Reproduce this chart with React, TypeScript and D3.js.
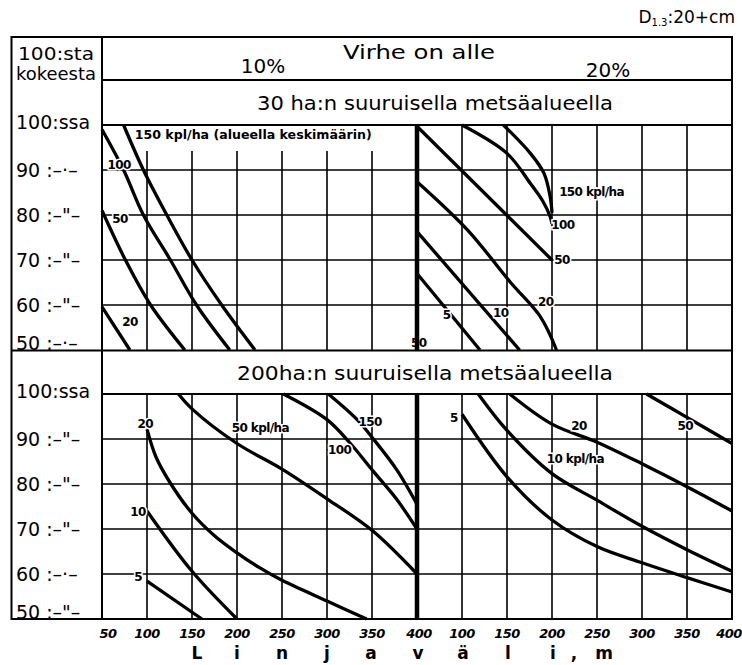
import React from "react";
import * as d3 from "d3";

const W = 742;
const H = 665;

type Pt = [number, number];
type Curve = { n: string; pts: Pt[] };
type Lab = { t: string; x: number; y: number };

// x: linjaväli (m), y: number of samples out of 100 where error stays below limit
const distances = [50, 100, 150, 200, 250, 300, 350, 400];
const percents = [50, 60, 70, 80, 90, 100];
const topYLabels = ["50 :–·–", "60 :–\"–", "70 :–\"–", "80 :–\"–", "90 :–·–", "100:ssa"];
const bottomYLabels = ["50 :–\"–", "60 :–·–", "70 :–\"–", "80 :–\"–", "90 :–\"–", "100:ssa"];

// 30 ha, error < 10 %
const ha30err10: Curve[] = [
  { n: "20", pts: [[50, 59.6], [81, 50]] },
  { n: "50", pts: [[50, 81], [76, 70], [104, 60], [142, 50]] },
  { n: "100", pts: [[50, 99], [74, 90], [96, 80], [126, 70], [155, 60], [192, 50]] },
  { n: "150", pts: [[74, 100], [96, 90], [122, 80], [150, 70], [183, 60], [220, 50]] },
];
const ha30err10Labels: Lab[] = [
  { t: "100", x: 69, y: 91.1 },
  { t: "50", x: 70, y: 79.1 },
  { t: "20", x: 81, y: 56.2 },
];
const ha30err10Main: Lab = { t: "150 kpl/ha (alueella keskimäärin)", x: 218, y: 97.8 };

// 30 ha, error < 20 %
const ha30err20: Curve[] = [
  { n: "5", pts: [[50, 67], [120, 50]] },
  { n: "10", pts: [[50, 76.3], [164, 50]] },
  { n: "20", pts: [[50, 87.4], [106, 76.7], [154, 65], [187, 57.4], [205, 50]] },
  { n: "50", pts: [[51, 99.5], [200, 70]] },
  { n: "100", pts: [[100, 100], [150, 93.7], [176, 87], [190, 83], [198, 79.6], [200, 78]] },
  { n: "150", pts: [[146, 100], [176, 93.7], [191, 89.3], [198, 84], [200, 80.5]] },
];
const ha30err20Labels: Lab[] = [
  { t: "150 kpl/ha", x: 244, y: 85.1 },
  { t: "100", x: 212, y: 77.8 },
  { t: "50", x: 211, y: 70 },
  { t: "20", x: 193, y: 60.7 },
  { t: "10", x: 143, y: 58.2 },
  { t: "5", x: 83, y: 57.8 },
  { t: "50", x: 52, y: 51.6 },
];

// 200 ha, error < 10 %
const ha200err10: Curve[] = [
  { n: "5", pts: [[100, 58.4], [161, 50]] },
  { n: "10", pts: [[100, 74], [150, 60.6], [200, 50]] },
  { n: "20", pts: [[100, 92.2], [110, 86], [125, 80.5], [150, 73.5], [175, 68.5], [200, 64.7], [225, 61.4], [250, 58.6], [300, 54], [344, 50]] },
  { n: "50", pts: [[135, 100], [150, 96.7], [200, 89], [250, 83.3], [300, 76.7], [350, 69.7], [400, 60]] },
  { n: "100", pts: [[251.5, 100], [300, 94.3], [326, 89], [351.5, 82.8], [377, 76.7], [400, 70]] },
  { n: "150", pts: [[301.5, 100], [333, 94.4], [351.5, 90], [377, 83.3], [400, 75.5]] },
];
const ha200err10Labels: Lab[] = [
  { t: "20", x: 98, y: 93.4 },
  { t: "10", x: 90, y: 73.7 },
  { t: "5", x: 90, y: 59.3 },
  { t: "50 kpl/ha", x: 226, y: 92.5 },
  { t: "100", x: 314, y: 87.5 },
  { t: "150", x: 348, y: 93.7 },
];

// 200 ha, error < 20 %
const ha200err20: Curve[] = [
  { n: "5", pts: [[100, 95.5], [150, 81.6], [200, 72], [250, 66.1], [300, 62.5], [350, 59.2], [400, 56]] },
  { n: "10", pts: [[118, 100], [150, 91.9], [200, 82.3], [250, 76.4], [300, 70.6], [350, 65.4], [400, 60.6]] },
  { n: "20", pts: [[153, 100], [200, 93.3], [250, 89.3], [300, 84.5], [350, 79.4], [400, 74]] },
  { n: "50", pts: [[305, 100], [350, 94.8], [400, 89]] },
];
const ha200err20Labels: Lab[] = [
  { t: "5", x: 91, y: 94.7 },
  { t: "20", x: 230, y: 92.9 },
  { t: "10 kpl/ha", x: 226, y: 85.6 },
  { t: "50", x: 348, y: 92.9 },
];

const leftTickLabels = ["50", "100", "150", "200", "250", "300", "350", "400"];
const rightTickLabels = ["100", "150", "200", "250", "300", "350", "400"];
const axisLetters = ["L", "i", "n", "j", "a", "v", "ä", "l", "i", ",", "m"];
const axisLetterX = [197, 237, 282, 327, 371, 418, 463, 508, 553, 574, 604];

// layout
const FL = 11.5, FR = 732, FT = 37, FB = 619;
const COL = 102;
const MID = 417;
const TOP_Y0 = 125, TOP_Y1 = 350;
const BOT_Y0 = 394, BOT_Y1 = 619;
const HEAD = "'DejaVu Sans', 'Open Sans', sans-serif";

function Panel({ x0, y0, y1, curves, labels, skipTop }: { x0: number; y0: number; y1: number; curves: Curve[]; labels: Lab[]; skipTop?: number }) {
  const xs = d3.scaleLinear().domain([50, 400]).range([x0, x0 + 315]);
  const ys = d3.scaleLinear().domain([50, 100]).range([y1, y0]);
  const line = d3
    .line<Pt>()
    .x((d) => xs(d[0]))
    .y((d) => ys(d[1]))
    .curve(d3.curveCatmullRom.alpha(0.5));
  return (
    <g>
      {distances.slice(1, -1).map((d) => (
        <line key={"v" + d} x1={xs(d)} x2={xs(d)} y1={y0 + (skipTop || 0)} y2={y1} stroke="#000" strokeWidth={1.6} />
      ))}
      {percents.slice(1, -1).map((p) => (
        <line key={"h" + p} x1={x0} x2={x0 + 315} y1={ys(p)} y2={ys(p)} stroke="#000" strokeWidth={1.6} />
      ))}
      {curves.map((c, i) => (
        <path key={i} d={line(c.pts) || ""} fill="none" stroke="#000" strokeWidth={3.3} />
      ))}
      {labels.map((l, i) => (
        <text
          key={"l" + i}
          x={xs(l.x)}
          y={ys(l.y)}
          textAnchor="middle"
          dominantBaseline="central"
          fontFamily={HEAD}
          fontWeight="bold"
          fontSize={12}
          letterSpacing={-0.6}
          fill="#000"
          stroke="#fff"
          strokeWidth={3}
          paintOrder="stroke"
        >
          {l.t}
        </text>
      ))}
    </g>
  );
}

function YLabels({ y0, y1, texts }: { y0: number; y1: number; texts: string[] }) {
  const ys = d3.scaleLinear().domain([50, 100]).range([y1, y0]);
  return (
    <g>
      {percents.map((p, i) => {
        let y = ys(p);
        if (p === 50) y -= 7;
        if (p === 100) y -= 3;
        return (
          <text key={p} x={16} y={y} dominantBaseline="central" fontFamily={HEAD} fontSize={19} fill="#000">
            {texts[i]}
          </text>
        );
      })}
    </g>
  );
}

export default function App() {
  const xl = d3.scaleLinear().domain([50, 400]).range([COL, MID]);
  const xr = d3.scaleLinear().domain([50, 400]).range([MID, FR]);
  const ysTop = d3.scaleLinear().domain([50, 100]).range([TOP_Y1, TOP_Y0]);
  return (
    <svg width={W} height={H} style={{ position: "absolute", left: 0, top: 0, background: "#fff" }}>
      <rect x={0} y={0} width={W} height={H} fill="#fff" />
      {/* D1.3:20+cm */}
      <text x={735} y={23} textAnchor="end" fontFamily={HEAD} fontSize={17} fill="#000">
        D<tspan fontSize={10} dy={3}>1.3</tspan>
        <tspan dy={-3}>:20+cm</tspan>
      </text>

      {/* panels */}
      <Panel x0={COL} y0={TOP_Y0} y1={TOP_Y1} curves={ha30err10} labels={ha30err10Labels} skipTop={26} />
      <Panel x0={MID} y0={TOP_Y0} y1={TOP_Y1} curves={ha30err20} labels={ha30err20Labels} />
      <Panel x0={COL} y0={BOT_Y0} y1={BOT_Y1} curves={ha200err10} labels={ha200err10Labels} />
      <Panel x0={MID} y0={BOT_Y0} y1={BOT_Y1} curves={ha200err20} labels={ha200err20Labels} />

      <text
        x={xl(ha30err10Main.x)}
        y={ysTop(ha30err10Main.y)}
        textAnchor="middle"
        dominantBaseline="central"
        fontFamily={HEAD}
        fontWeight="bold"
        fontSize={12}
        textLength={237}
        lengthAdjust="spacingAndGlyphs"
        fill="#000"
      >
        {ha30err10Main.t}
      </text>

      {/* thick divider */}
      <line x1={MID} x2={MID} y1={TOP_Y0} y2={TOP_Y1} stroke="#000" strokeWidth={4.5} />
      <line x1={MID} x2={MID} y1={BOT_Y0} y2={BOT_Y1} stroke="#000" strokeWidth={4.5} />

      {/* frame */}
      <rect x={FL} y={FT} width={FR - FL} height={FB - FT} fill="none" stroke="#000" strokeWidth={2} />
      <line x1={COL} x2={COL} y1={FT} y2={FB} stroke="#000" strokeWidth={2} />
      <line x1={COL} x2={FR} y1={80} y2={80} stroke="#000" strokeWidth={1.8} />
      <line x1={COL} x2={FR} y1={TOP_Y0} y2={TOP_Y0} stroke="#000" strokeWidth={1.8} />
      <line x1={FL} x2={FR} y1={TOP_Y1 + 0.5} y2={TOP_Y1 + 0.5} stroke="#000" strokeWidth={2} />
      <line x1={COL} x2={FR} y1={BOT_Y0} y2={BOT_Y0} stroke="#000" strokeWidth={1.8} />

      {/* headers */}
      <text x={56} y={54} textAnchor="middle" dominantBaseline="central" fontFamily={HEAD} fontSize={17} textLength={76} lengthAdjust="spacingAndGlyphs" fill="#000">
        100:sta
      </text>
      <text x={56} y={74} textAnchor="middle" dominantBaseline="central" fontFamily={HEAD} fontSize={17} textLength={80} lengthAdjust="spacingAndGlyphs" fill="#000">
        kokeesta
      </text>
      <text x={419} y={52} textAnchor="middle" dominantBaseline="central" fontFamily={HEAD} fontSize={20} textLength={152} lengthAdjust="spacingAndGlyphs" fill="#000">
        Virhe on alle
      </text>
      <text x={263} y={66} textAnchor="middle" dominantBaseline="central" fontFamily={HEAD} fontSize={20} fill="#000">
        10%
      </text>
      <text x={608} y={70} textAnchor="middle" dominantBaseline="central" fontFamily={HEAD} fontSize={20} fill="#000">
        20%
      </text>
      <text x={435} y={103} textAnchor="middle" dominantBaseline="central" fontFamily={HEAD} fontSize={20} textLength={356} lengthAdjust="spacingAndGlyphs" fill="#000">
        30 ha:n suuruisella metsäalueella
      </text>
      <text x={425} y={373} textAnchor="middle" dominantBaseline="central" fontFamily={HEAD} fontSize={20} textLength={376} lengthAdjust="spacingAndGlyphs" fill="#000">
        200ha:n suuruisella metsäalueella
      </text>

      <YLabels y0={TOP_Y0} y1={TOP_Y1} texts={topYLabels} />
      <YLabels y0={BOT_Y0} y1={BOT_Y1} texts={bottomYLabels} />

      {/* x tick labels */}
      {leftTickLabels.map((t, i) => (
        <text key={"lt" + i} x={xl(distances[i]) + (i === 0 ? 6 : 0) + (i === 7 ? 2 : 0)} y={633} textAnchor="middle" dominantBaseline="central" fontFamily={HEAD} fontWeight="bold" fontStyle="italic" fontSize={13} letterSpacing={-0.5} fill="#000">
          {t}
        </text>
      ))}
      {rightTickLabels.map((t, i) => (
        <text key={"rt" + i} x={xr(distances[i + 1]) + (i === 6 ? -3 : 0)} y={633} textAnchor="middle" dominantBaseline="central" fontFamily={HEAD} fontWeight="bold" fontStyle="italic" fontSize={13} letterSpacing={-0.5} fill="#000">
          {t}
        </text>
      ))}
      {axisLetters.map((c, i) => (
        <text key={"ax" + i} x={axisLetterX[i]} y={653} textAnchor="middle" dominantBaseline="central" fontFamily={HEAD} fontWeight="bold" fontSize={17} fill="#000">
          {c}
        </text>
      ))}
    </svg>
  );
}
